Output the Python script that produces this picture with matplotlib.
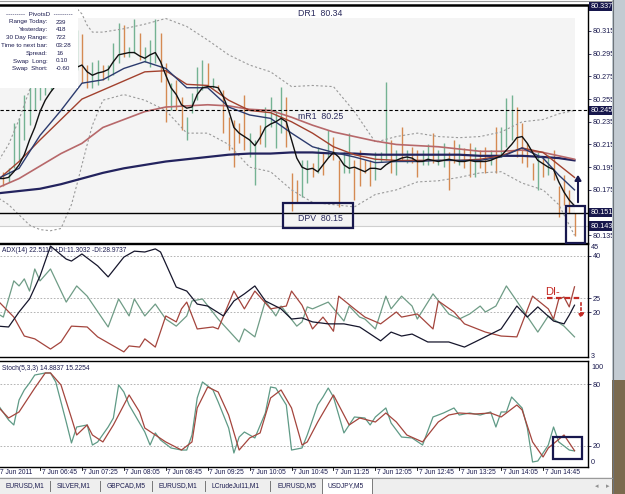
import matplotlib
matplotlib.use("Agg")
import matplotlib.pyplot as plt
from matplotlib.patches import Rectangle, FancyArrowPatch
from matplotlib.lines import Line2D

plt.rcParams['font.family'] = ['Liberation Sans', 'DejaVu Sans']

# ---------------- data (USDJPY M5, 7 Jun 2011) ----------------
bar_high = [80.193, 80.191, 80.194, 80.234, 80.238, 80.259, 80.267, 80.272, 80.281, 80.289,
            80.294, 80.298, 80.303, 80.307, 80.312, 80.316, 80.312, 80.285, 80.288, 80.289,
            80.285, 80.285, 80.304, 80.322, 80.320, 80.301, 80.326, 80.313, 80.301, 80.307,
            80.326, 80.313, 80.287, 80.269, 80.272, 80.257, 80.239, 80.260, 80.283, 80.289,
            80.287, 80.274, 80.267, 80.263, 80.239, 80.237, 80.234, 80.259, 80.225, 80.219,
            80.232, 80.248, 80.257, 80.245, 80.266, 80.257, 80.190, 80.184, 80.201, 80.201,
            80.199, 80.213, 80.208, 80.228, 80.222, 80.201, 80.208, 80.225, 80.201, 80.210,
            80.201, 80.201, 80.208, 80.208, 80.270, 80.219, 80.210, 80.230, 80.210, 80.213,
            80.210, 80.210, 80.215, 80.225, 80.210, 80.216, 80.208, 80.219, 80.215, 80.212,
            80.216, 80.213, 80.210, 80.213, 80.210, 80.230, 80.230, 80.256, 80.259, 80.248,
            80.234, 80.216, 80.199, 80.208, 80.204, 80.206, 80.210, 80.178, 80.188, 80.175,
            80.155]
bar_low = [80.179, 80.178, 80.182, 80.194, 80.201, 80.219, 80.232, 80.245, 80.254, 80.259,
           80.263, 80.267, 80.272, 80.276, 80.281, 80.281, 80.269, 80.265, 80.265, 80.267,
           80.272, 80.272, 80.276, 80.287, 80.292, 80.292, 80.296, 80.289, 80.288, 80.283,
           80.287, 80.270, 80.235, 80.245, 80.245, 80.228, 80.219, 80.243, 80.254, 80.263,
           80.266, 80.265, 80.263, 80.225, 80.210, 80.195, 80.216, 80.210, 80.204, 80.179,
           80.215, 80.213, 80.230, 80.212, 80.225, 80.213, 80.156, 80.164, 80.169, 80.181,
           80.186, 80.190, 80.188, 80.204, 80.201, 80.160, 80.190, 80.190, 80.166, 80.178,
           80.190, 80.178, 80.184, 80.200, 80.201, 80.190, 80.188, 80.201, 80.199, 80.199,
           80.186, 80.197, 80.197, 80.199, 80.197, 80.195, 80.175, 80.199, 80.197, 80.194,
           80.186, 80.186, 80.194, 80.190, 80.197, 80.190, 80.204, 80.213, 80.219, 80.204,
           80.199, 80.195, 80.184, 80.175, 80.186, 80.188, 80.184, 80.151, 80.162, 80.155,
           80.134]
bar_dir = list("UDUUUUUUUU" "UDUUDUDDUU" "DUUUDUUDUU" "UDDUDDUUUU" "DUDDDDDDUU"
               "DUUUUDDDUU" "DUDUDDUUDD" "DDUUUDUDUD" "DUUDUUDDUD" "DUDDUDUUUD"
               "DDDUDUD" "DDDD")

ma_fast = [80.185, 80.185, 80.186, 80.191, 80.197, 80.206, 80.219, 80.230, 80.244, 80.254,
           80.261, 80.267, 80.272, 80.276, 80.281, 80.283, 80.285, 80.279, 80.276, 80.278,
           80.279, 80.281, 80.288, 80.294, 80.295, 80.296, 80.296, 80.293, 80.291, 80.294,
           80.296, 80.288, 80.276, 80.265, 80.259, 80.250, 80.247, 80.248, 80.259, 80.265,
           80.266, 80.266, 80.265, 80.257, 80.245, 80.230, 80.225, 80.222, 80.219, 80.214,
           80.221, 80.230, 80.233, 80.235, 80.238, 80.235, 80.219, 80.203, 80.195, 80.193,
           80.194, 80.191, 80.197, 80.203, 80.208, 80.204, 80.197, 80.194, 80.195, 80.193,
           80.191, 80.194, 80.194, 80.193, 80.197, 80.200, 80.201, 80.203, 80.204, 80.203,
           80.200, 80.200, 80.202, 80.201, 80.200, 80.201, 80.202, 80.201, 80.200, 80.200,
           80.201, 80.200, 80.200, 80.200, 80.201, 80.203, 80.205, 80.210, 80.215, 80.221,
           80.222, 80.216, 80.208, 80.201, 80.198, 80.195, 80.193, 80.182, 80.173, 80.166,
           80.161]

ma_idx = [0, 4, 8, 12, 16, 20, 24, 28, 32, 36, 40, 44, 48, 52, 56, 60, 64, 68, 72, 76,
          80, 84, 88, 92, 96, 100, 104, 107, 110]
ma_blue = [80.185, 80.194, 80.223, 80.245, 80.269, 80.272, 80.282, 80.288, 80.282, 80.265,
           80.265, 80.248, 80.241, 80.238, 80.225, 80.213, 80.208, 80.204, 80.199, 80.200,
           80.200, 80.201, 80.201, 80.201, 80.204, 80.212, 80.203, 80.188, 80.175]
ma_red = [80.184, 80.200, 80.219, 80.237, 80.255, 80.263, 80.271, 80.279, 80.280, 80.268,
          80.267, 80.254, 80.245, 80.243, 80.235, 80.225, 80.213, 80.206, 80.202, 80.201,
          80.201, 80.201, 80.201, 80.202, 80.205, 80.212, 80.208, 80.197, 80.186]
ma_pink = [80.177, 80.185, 80.196, 80.207, 80.216, 80.230, 80.237, 80.244, 80.248, 80.249,
           80.250, 80.249, 80.246, 80.245, 80.239, 80.232, 80.226, 80.222, 80.218, 80.215,
           80.214, 80.213, 80.211, 80.209, 80.209, 80.210, 80.208, 80.205, 80.202]
ma_long = [80.172, 80.174, 80.176, 80.180, 80.185, 80.190, 80.194, 80.197, 80.200, 80.202,
           80.204, 80.206, 80.207, 80.207, 80.208, 80.208, 80.207, 80.207, 80.206, 80.206,
           80.206, 80.206, 80.206, 80.205, 80.205, 80.205, 80.204, 80.203, 80.201]

bb_idx = [0, 2, 4, 6, 8, 10, 12, 14, 15, 16, 17, 18, 20, 24, 28, 32, 36, 40, 44, 48,
          52, 56, 60, 64, 68, 72, 76, 80, 84, 88, 92, 96, 100, 104, 107, 110]
bb_upper = [80.200, 80.215, 80.237, 80.263, 80.289, 80.307, 80.318, 80.329, 80.335, 80.330,
            80.320, 80.314, 80.314, 80.317, 80.321, 80.326, 80.319, 80.307, 80.294, 80.285,
            80.279, 80.266, 80.267, 80.266, 80.244, 80.217, 80.222, 80.225, 80.222, 80.221,
            80.222, 80.226, 80.235, 80.237, 80.242, 80.245]
bb_lower = [80.168, 80.162, 80.153, 80.144, 80.140, 80.139, 80.141, 80.162, 80.179, 80.197,
            80.215, 80.232, 80.254, 80.259, 80.254, 80.245, 80.225, 80.225, 80.215, 80.195,
            80.191, 80.175, 80.164, 80.162, 80.160, 80.171, 80.175, 80.182, 80.183, 80.186,
            80.190, 80.191, 80.181, 80.175, 80.162, 80.135]

adx_idx = [0, 2, 4, 6, 8, 10, 13, 14, 16, 19, 21, 24, 26, 28, 30, 31, 34, 36, 38, 40,
           43, 45, 47, 49, 51, 54, 56, 58, 60, 63, 66, 69, 73, 75, 77, 79, 82, 86, 89, 91,
           96, 99, 101, 103, 106, 108, 109, 110]
adx_val = [15.1, 14.8, 20.1, 24.7, 32.8, 43.4, 38.8, 38.1, 40.6, 36.4, 32.5, 39.5, 41.6, 41.3,
           42.4, 41.3, 28.9, 27.5, 22.9, 22.2, 18.7, 24.0, 26.5, 29.3, 24.0, 21.2, 17.6, 18.0,
           16.6, 15.9, 15.9, 14.8, 9.9, 13.0, 11.6, 12.3, 9.5, 9.5, 7.7, 9.5, 14.1, 22.2, 18.3,
           21.9, 16.9, 15.9, 19.0, 22.5]
pdi_idx = [0, 1, 3, 4, 5, 6, 7, 8, 10, 13, 15, 17, 21, 23, 25, 26, 28, 30, 32, 34, 36, 37,
           39, 42, 46, 47, 49, 51, 53, 54, 57, 58, 59, 60, 63, 66, 67, 69, 70, 72, 74, 75, 77,
           79, 80, 83, 86, 88, 90, 92, 93, 95, 97, 100, 103, 105, 108, 110]
pdi_val = [19.4, 18.3, 31.1, 29.3, 31.8, 27.5, 35.3, 31.1, 35.3, 23.6, 29.3, 25.7, 14.8, 24.7,
           18.7, 24.7, 18.7, 22.9, 17.6, 15.1, 18.7, 24.0, 24.7, 17.6, 9.5, 14.1, 11.3, 24.0,
           18.7, 22.2, 15.1, 16.6, 21.9, 21.2, 23.6, 16.9, 22.2, 18.3, 17.6, 14.1, 25.7, 21.2,
           25.7, 22.2, 17.6, 26.5, 19.4, 17.6, 19.4, 22.2, 20.1, 22.2, 29.3, 21.2, 13.0, 18.7,
           15.1, 11.3]
mdi_idx = [0, 3, 5, 7, 10, 12, 14, 17, 19, 24, 25, 27, 28, 30, 32, 34, 35, 36, 38, 41, 42,
           45, 47, 49, 52, 55, 56, 58, 60, 62, 63, 64, 65, 68, 70, 73, 76, 77, 80, 83, 84, 87,
           89, 93, 96, 99, 102, 105, 106, 107, 108, 109, 110]
mdi_val = [24.0, 18.3, 11.6, 10.6, 7.0, 9.5, 15.1, 14.8, 11.3, 6.0, 8.1, 7.7, 10.6, 7.7, 18.7,
           16.6, 21.2, 23.6, 14.1, 14.8, 14.1, 27.5, 21.2, 27.5, 21.2, 22.2, 27.5, 22.5, 14.1,
           18.3, 15.9, 13.3, 25.7, 21.2, 18.3, 15.9, 20.1, 18.3, 19.4, 14.1, 24.0, 20.1, 15.9,
           13.0, 11.6, 11.3, 25.7, 21.2, 17.6, 24.7, 25.4, 21.9, 29.0]

stk_idx = [0, 2, 3, 4, 5, 6, 7, 9, 10, 11, 13, 14, 15, 17, 18, 19, 21, 22, 23, 24, 25, 27,
           28, 29, 30, 31, 33, 35, 36, 37, 38, 39, 41, 42, 44, 45, 46, 47, 49, 51, 52, 53, 55,
           56, 58, 59, 60, 61, 62, 63, 64, 66, 68, 70, 71, 72, 74, 75, 77, 79, 81, 83, 85, 87,
           88, 90, 92, 94, 95, 96, 97, 98, 100, 101, 102, 103, 105, 106, 107, 109, 110]
stk_val = [59.8, 45.2, 40.3, 64.7, 74.5, 81.3, 89.1, 91.1, 91.1, 82.3, 43.2, 22.7, 38.3, 40.3,
           20.7, 23.7, 38.3, 47.1, 79.4, 72.5, 59.8, 42.2, 33.4, 20.7, 32.5, 25.6, 17.8, 15.8,
           15.8, 30.5, 66.7, 82.3, 74.5, 62.8, 37.3, 12.9, 28.5, 33.4, 27.6, 52.0, 77.4, 76.4,
           59.8, 15.8, 17.8, 30.5, 45.2, 60.0, 67.6, 76.4, 67.6, 32.5, 48.1, 47.1, 40.3, 48.1,
           56.9, 42.2, 28.5, 27.6, 20.7, 48.1, 52.0, 56.9, 50.0, 52.0, 50.0, 53.0, 38.3, 53.0,
           53.0, 67.6, 56.9, 37.3, 4.1, 5.1, 20.7, 38.3, 23.7, 15.8, 14.9]
std_idx = [0, 2, 4, 7, 9, 10, 12, 14, 15, 17, 18, 20, 22, 25, 27, 28, 30, 32, 35, 37, 38,
           40, 42, 44, 46, 48, 50, 52, 54, 56, 58, 59, 61, 62, 64, 65, 67, 69, 72, 74, 76, 78,
           81, 84, 86, 88, 91, 94, 96, 99, 100, 102, 104, 105, 108, 110]
std_val = [57.9, 47.1, 53.0, 76.4, 91.1, 91.1, 79.4, 47.1, 30.5, 40.3, 30.5, 23.7, 40.3, 69.6,
           53.0, 37.3, 30.5, 23.7, 15.8, 23.7, 56.9, 77.4, 72.5, 50.0, 15.8, 27.6, 32.5, 66.7,
           74.5, 56.9, 20.7, 23.7, 43.2, 52.0, 69.6, 59.8, 40.3, 47.1, 43.2, 52.0, 43.2, 30.5,
           23.7, 43.2, 50.0, 52.0, 51.0, 52.0, 48.1, 59.8, 55.0, 23.7, 9.0, 17.8, 30.5, 15.2]

price_ticks = [80.315, 80.295, 80.275, 80.255, 80.235, 80.215, 80.195, 80.175, 80.135]
hl_levels = [80.337, 80.245, 80.155, 80.143]
hl_labels = ["80.337", "80.245", "80.151", "80.143"]
pivot_names = ["DR1", "mR1", "DPV"]
pivot_levels = [80.340, 80.245, 80.155]
pivot_text = ["80.34", "80.25", "80.15"]
bid_level = 80.143

time_idx = [0, 8, 16, 24, 32, 40, 48, 56, 64, 72, 80, 88, 96, 104]
time_labels = ["7 Jun 2011", "7 Jun 06:45", "7 Jun 07:25", "7 Jun 08:05", "7 Jun 08:45",
               "7 Jun 09:25", "7 Jun 10:05", "7 Jun 10:45", "7 Jun 11:25", "7 Jun 12:05",
               "7 Jun 12:45", "7 Jun 13:25", "7 Jun 14:05", "7 Jun 14:45"]

info_keys = ["Range Today:", "Yesterday:", "30 Day Range:", "Time to next bar:",
             "Spread:", "Swap  Long:", "Swap  Short:"]
info_vals = ["239", "418", "722", "03:28", "16", "0.10", "-0.60"]
tabs = ["EURUSD,M1", "SILVER,M1", "GBPCAD,M5", "EURUSD,M1", "LCrudeJul11,M1",
        "EURUSD,M5", "USDJPY,M5"]
adx_title = "ADX(14) 22.5116 +DI:11.3032 -DI:28.9737"
stoch_title = "Stoch(5,3,3) 14.8837 15.2254"

# ---------------- layout helpers (pixel -> figure) ----------------
W, H = 625, 494
fig = plt.figure(figsize=(6.25, 4.94), dpi=100)
fig.patch.set_facecolor("white")


def rect(x0, y0, x1, y1):
    return [x0 / W, 1 - y1 / H, (x1 - x0) / W, (y1 - y0) / H]


def fx(x):
    return x / W


def fy(y):
    return 1 - y / H


NAVY = "#18184e"
TXT = "#1c1c50"
GREEN = "#74b293"
ORANGE = "#d58a52"
PLOT_R = 588
BAR_W = 5.24
XL = (1.9 / BAR_W, (PLOT_R + 1.9) / BAR_W)
FS = 5.2
FS_SMALL = 4.8

ax = fig.add_axes(rect(0, 5, PLOT_R, 243))
ax_adx = fig.add_axes(rect(0, 244, PLOT_R, 357))
ax_st = fig.add_axes(rect(0, 361, PLOT_R, 467))

for a in (ax, ax_adx, ax_st):
    a.set_xlim(*XL)
    a.set_facecolor("white")
    a.spines['left'].set_visible(False)
    for s in ('right', 'bottom', 'top'):
        a.spines[s].set_color("black")
        a.spines[s].set_linewidth(1.0)
    a.set_xticks([])
    a.yaxis.tick_right()
    a.tick_params(axis='y', length=2, width=0.6, labelsize=FS, colors=TXT, pad=1.5)
ax.spines['top'].set_linewidth(1.8)

# ---------------- main price panel ----------------
ax.set_ylim(80.1282, 80.3379)
ax.add_patch(Rectangle((XL[0], 80.1423), (575 + 1.9) / BAR_W - XL[0], 80.3264 - 80.1423,
                       facecolor="#f4f4f4", edgecolor="none", zorder=0))
x = list(range(len(bar_high)))
cols = [GREEN if d == "U" else ORANGE for d in bar_dir]
ax.vlines(x, bar_low, bar_high, colors=cols, linewidth=1.0, zorder=2)

ax.plot(bb_idx, bb_upper, color="#9a9a9a", lw=0.8, ls=(0, (2, 2)), zorder=2)
ax.plot(bb_idx, bb_lower, color="#9a9a9a", lw=0.8, ls=(0, (2, 2)), zorder=2)
ax.plot(ma_idx, ma_long, color="#23235e", lw=1.6, zorder=3)
ax.plot(ma_idx, ma_pink, color="#b7686a", lw=1.2, zorder=3)
ax.plot(ma_idx, ma_red, color="#a2412e", lw=1.0, zorder=3)
ax.plot(ma_idx, ma_blue, color="#2c3b6e", lw=1.0, zorder=3)
ax.plot(x, ma_fast, color="#111111", lw=1.0, zorder=4)

ax.axhline(pivot_levels[1], color="black", lw=0.8, ls=(0, (3, 2)), zorder=3)
ax.axhline(pivot_levels[2], color="black", lw=1.0, zorder=3)
ax.axhline(bid_level, color="#cfcfcf", lw=0.8, zorder=1)

ytop = ax.get_ylim()[1]
for name, lev, t in zip(pivot_names, pivot_levels, pivot_text):
    yy = min(lev, ytop)
    ax.annotate(f"{name}  {t}", xy=(298 / PLOT_R, yy), xycoords=ax.get_yaxis_transform(),
                xytext=(0, -1.0 if lev < ytop else -3), textcoords="offset points",
                ha="left", va="top", fontsize=6.3, color="#2a2a5c", zorder=9,
                annotation_clip=False)

ax.set_yticks(price_ticks)
ax.set_yticklabels([f"{v:.3f}" for v in price_ticks])
for lev, lab in zip(hl_levels, hl_labels):
    ax.text(1.0 + 2.5 / PLOT_R, lev, lab, transform=ax.get_yaxis_transform(), ha="left",
            va="center", fontsize=FS, color="white", clip_on=False, zorder=7,
            bbox=dict(boxstyle="square,pad=0.18", fc="#16164c", ec="none"))

# info box (PivotsD)
fig.add_artist(Rectangle((fx(0), fy(88)), fx(78), 79 / H, transform=fig.transFigure,
                         facecolor="white", edgecolor="none", zorder=5))
fig.text(fx(39), fy(14), "---------  PivotsD  ---------", ha="center", va="center",
         fontsize=4.5, color=TXT, zorder=6)
for k, (key, val) in enumerate(zip(info_keys, info_vals)):
    yy = 22 + 7.8 * k
    fig.text(fx(48), fy(yy), key, ha="right", va="center", fontsize=4.5, color=TXT, zorder=6)
    fig.text(fx(56), fy(yy), val, ha="left", va="center", fontsize=4.5, color=TXT, zorder=6)

# annotation boxes and arrow
for (x0, y0, x1, y1) in [(283, 203, 353, 228), (566, 206, 585, 243), (553, 437, 582, 459)]:
    fig.add_artist(Rectangle((fx(x0), fy(y1)), (x1 - x0) / W, (y1 - y0) / H,
                             transform=fig.transFigure, fill=False, edgecolor=NAVY,
                             linewidth=1.6, zorder=8))
fig.add_artist(FancyArrowPatch((fx(578), fy(205)), (fx(578), fy(172)),
               transform=fig.transFigure, arrowstyle="-|>,head_length=3,head_width=1.8",
               color=NAVY, lw=1.5, zorder=8))

# ---------------- ADX panel ----------------
ax_adx.set_ylim(4.19, 44.13)
for g in (40, 25, 20):
    ax_adx.axhline(g, color="#a8a8a8", lw=0.6, ls=(0, (2, 2)), zorder=1)
ax_adx.plot(pdi_idx, pdi_val, color="#6f9c86", lw=0.9, zorder=3)
ax_adx.plot(mdi_idx, mdi_val, color="#a4453d", lw=0.9, zorder=3)
ax_adx.plot(adx_idx, adx_val, color="#16162c", lw=0.9, zorder=4)
ax_adx.set_yticks([40, 25, 20])
ax_adx.set_yticklabels(["40", "25", "20"])
ax_adx.text(1.0 + 3 / PLOT_R, 1.0, "45", transform=ax_adx.transAxes, ha="left", va="top",
            fontsize=FS, color=TXT)
ax_adx.text(1.0 + 3 / PLOT_R, 0.0, "3", transform=ax_adx.transAxes, ha="left", va="center",
            fontsize=FS, color=TXT)
ax_adx.text(2 / PLOT_R, 0.94, adx_title, transform=ax_adx.transAxes, ha="left", va="center",
            fontsize=FS_SMALL, color=TXT)
# DI- annotation
fig.text(fx(545), fy(292), "DI-", ha="left", va="center", fontsize=8, color="#c42a24")
fig.add_artist(Line2D([fx(547), fx(582)], [fy(298.5), fy(298.5)], transform=fig.transFigure,
                      color="#c42a24", lw=1.6, ls=(0, (2.5, 1.5))))
fig.add_artist(FancyArrowPatch((fx(581), fy(300)), (fx(581), fy(321)),
               transform=fig.transFigure, arrowstyle="-|>,head_length=2.5,head_width=1.6",
               color="#c42a24", lw=1.2, ls=(0, (1.5, 1.5))))

# ---------------- Stochastic panel ----------------
ax_st.set_ylim(-0.78, 102.8)
for g in (80, 20):
    ax_st.axhline(g, color="#a8a8a8", lw=0.6, ls=(0, (2, 2)), zorder=1)
ax_st.plot(stk_idx, stk_val, color="#5f9a86", lw=0.9, zorder=3)
ax_st.plot(std_idx, std_val, color="#a4453d", lw=0.9, zorder=3)
ax_st.set_yticks([80, 20])
ax_st.set_yticklabels(["80", "20"])
ax_st.text(1.0 + 3 / PLOT_R, 96.3, "100", transform=ax_st.get_yaxis_transform(), ha="left",
           va="center", fontsize=FS, color=TXT)
ax_st.text(1.0 + 3 / PLOT_R, 3.4, "0", transform=ax_st.get_yaxis_transform(), ha="left",
           va="center", fontsize=FS, color=TXT)
ax_st.text(2 / PLOT_R, 0.925, stoch_title, transform=ax_st.transAxes, ha="left",
           va="center", fontsize=FS_SMALL, color=TXT)

# time axis
for i, lab in zip(time_idx, time_labels):
    xp = -1.9 + BAR_W * i
    if i > 0:
        fig.add_artist(Line2D([fx(xp), fx(xp)], [fy(467), fy(470)], transform=fig.transFigure,
                              color="black", lw=0.6))
        fig.text(fx(xp + 1.5), fy(472.5), lab, ha="left", va="center", fontsize=FS_SMALL,
                 color=TXT)
    else:
        fig.text(fx(0.5), fy(472.5), lab, ha="left", va="center", fontsize=FS_SMALL, color=TXT)

# ---------------- tab bar and window frame ----------------
fig.add_artist(Rectangle((0, 0), fx(612), fy(477), transform=fig.transFigure,
                         facecolor="#eeeeee", edgecolor="none", zorder=0.5))
fig.add_artist(Line2D([0, fx(612)], [fy(477.5), fy(477.5)], transform=fig.transFigure,
                      color="#9a9a9a", lw=0.8))
tab_x = [5, 57, 107, 158, 212, 277]
tab_sep = [50, 100, 152, 205, 270]
for k, (name, xt) in enumerate(zip(tabs[:-1], tab_x)):
    fig.text(fx(xt), fy(486), name, ha="left", va="center", fontsize=FS_SMALL, color=TXT)
    if k < len(tab_sep):
        sep = tab_sep[k]
        fig.add_artist(Line2D([fx(sep), fx(sep)], [fy(481), fy(491)], transform=fig.transFigure,
                              color="#777777", lw=0.7))
fig.add_artist(Rectangle((fx(322), fy(494)), 50 / W, 16 / H, transform=fig.transFigure,
                         facecolor="white", edgecolor="#7a7a7a", linewidth=0.7, zorder=1))
fig.text(fx(328), fy(486), tabs[-1], ha="left", va="center", fontsize=FS_SMALL, color=TXT,
         zorder=2)
fig.text(fx(597), fy(487), "\u25c2", ha="center", va="center", fontsize=5, color="#909090")
fig.text(fx(608), fy(487), "\u25b8", ha="center", va="center", fontsize=5, color="#909090")

fig.add_artist(Rectangle((fx(612), fy(380)), 13 / W, 380 / H, transform=fig.transFigure,
                         facecolor="#c3cbd2", edgecolor="none", zorder=0.6))
fig.add_artist(Rectangle((fx(612), 0), 13 / W, fy(380), transform=fig.transFigure,
                         facecolor="#7b6a4e", edgecolor="none", zorder=0.6))
fig.add_artist(Line2D([fx(612.5), fx(612.5)], [0, 1], transform=fig.transFigure,
                      color="#6d747a", lw=0.8))
fig.add_artist(Line2D([0, fx(612)], [fy(1), fy(1)], transform=fig.transFigure,
                      color="#9a9a9a", lw=0.8))

fig.savefig("out.png", dpi=100)
